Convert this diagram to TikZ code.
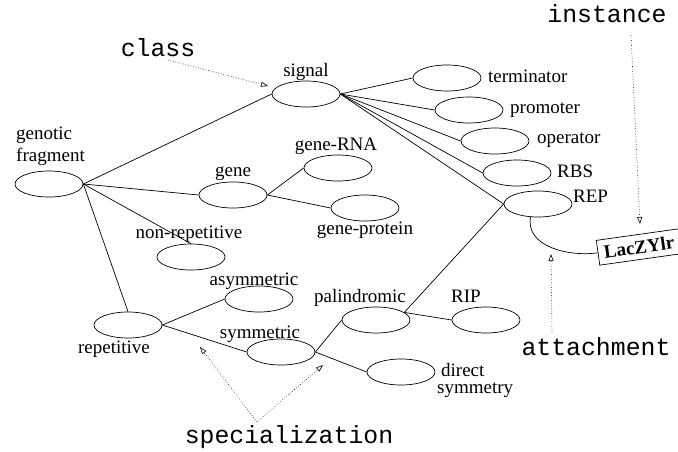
\documentclass[tikz,border=0pt]{standalone}
\usepackage{fontspec}
\setmainfont{Liberation Serif}
\setmonofont{Liberation Mono}
\usetikzlibrary{shapes.geometric,arrows.meta}
\begin{document}
\begin{tikzpicture}[x=1pt,y=-1pt,
  ell/.style={draw, ellipse, minimum width=68pt, minimum height=26pt, inner sep=0pt, line width=0.7pt},
  lbl/.style={font=\fontsize{19}{22}\selectfont, inner sep=0pt, anchor=base},
  lblw/.style={lbl, anchor=base west},
  ann/.style={font=\ttfamily\fontsize{24.8}{28}\selectfont, inner sep=0pt, anchor=base},
  conn/.style={line width=0.7pt},
  annarrow/.style={dotted, line width=0.6pt, -{Triangle[open,length=7pt,width=5pt]}}
]
\clip (0,0) rectangle (678,451);
% ellipses
\node[ell] (gf) at (49,184) {};
\node[ell] (sig) at (306,94) {};
\node[ell] (gene) at (233,195) {};
\node[ell] (grna) at (338,168) {};
\node[ell] (gprot) at (365,208) {};
\node[ell] (term) at (447,78) {};
\node[ell] (prom) at (469,110) {};
\node[ell] (oper) at (495,141) {};
\node[ell] (rbs) at (517,173) {};
\node[ell] (rep) at (538,204) {};
\node[ell] (nonrep) at (191,257) {};
\node[ell] (asym) at (259,299) {};
\node[ell] (repet) at (128,325) {};
\node[ell] (sym) at (281,352) {};
\node[ell] (pal) at (376,320) {};
\node[ell] (rip) at (486,320) {};
\node[ell] (dsym) at (401,372) {};
% labels
\node[lblw] (gfl1) at (16,139) {genotic};
\node[lblw] (gfl2) at (16,161) {fragment};
\node[lbl] (sigl) at (306,76) {signal};
\node[lbl] (genel) at (233,176) {gene};
\node[lbl] (grnal) at (336,150) {gene-RNA};
\node[lbl] (gprotl) at (365,234) {gene-protein};
\node[lblw] (terml) at (488,82) {terminator};
\node[lblw] (proml) at (510,113) {promoter};
\node[lblw] (operl) at (537,143) {operator};
\node[lblw] (rbsl) at (557,177) {RBS};
\node[lblw] (repl) at (573,202) {REP};
\node[lbl] (nonrepl) at (189,238) {non-repetitive};
\node[lbl] (asyml) at (254,285) {asymmetric};
\node[lbl] (repetl) at (114,353) {repetitive};
\node[lbl] (syml) at (260,338) {symmetric};
\node[lbl] (pall) at (360,302) {palindromic};
\node[lbl] (ripl) at (466,302) {RIP};
\node[lblw] (dsyml1) at (441,376) {direct};
\node[lblw] (dsyml2) at (437,393) {symmetry};
% instance box
\node[draw, rotate=8, font=\bfseries\fontsize{19}{22}\selectfont, minimum height=25pt, inner xsep=6pt, line width=0.7pt] (lac) at (639,247) {LacZYlr};
% connectors
\draw[conn] (gf.east) -- (sig.west);
\draw[conn] (gf.east) -- (gene.west);
\draw[conn] (gf.east) -- (nonrep.north);
\draw[conn] (gf.east) -- (repet.north);
\draw[conn] (gene.east) -- (grna.west);
\draw[conn] (gene.east) -- (gprot.west);
\draw[conn] (sig.east) -- (term.west);
\draw[conn] (sig.east) -- (prom.west);
\draw[conn] (sig.east) -- (oper.west);
\draw[conn] (sig.east) -- (rbs.west);
\draw[conn] (sig.east) -- (rep.west);
\draw[conn] (rep.west) -- (pal.15);
\draw[conn] (pal.15) -- (rip.west);
\draw[conn] (repet.east) -- (asym.west);
\draw[conn] (repet.east) -- (sym.west);
\draw[conn] (sym.east) -- (pal.west);
\draw[conn] (sym.east) -- (dsym.west);
\draw[conn] (rep.240) to[out=-100,in=188] (lac.west);
% annotations
\node[ann] (classl) at (158,56) {class};
\node[ann] (instl) at (607,22) {instance};
\node[ann] (attl) at (596,355) {attachment};
\node[ann] (specl) at (289,443) {specialization};
\coordinate (classS) at (168,60);
\coordinate (classT) at (268,86);
\coordinate (instS) at (631,35);
\coordinate (instT) at (640,224);
\coordinate (attS) at (552,332);
\coordinate (attT) at (551,254);
\coordinate (specS) at (257,422);
\coordinate (specT1) at (200,347);
\coordinate (specT2) at (323,365);
\draw[annarrow] (classS) -- (classT);
\draw[annarrow] (instS) -- (instT);
\draw[annarrow] (attS) -- (attT);
\draw[annarrow] (specS) -- (specT1);
\draw[annarrow] (specS) -- (specT2);
\end{tikzpicture}
\end{document}
